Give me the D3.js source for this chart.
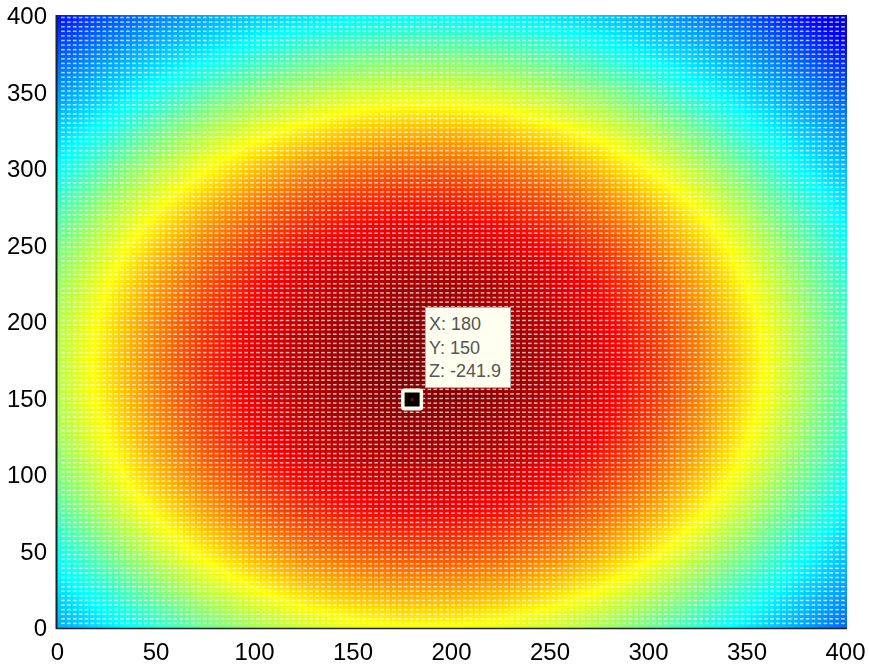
<!DOCTYPE html>
<html>
<head>
<meta charset="utf-8">
<script src="https://cdn.jsdelivr.net/npm/d3@7"></script>
<style>
    html, body { margin: 0; padding: 0; background: #fff; }
    #chart { position: relative; width: 869px; height: 667px; overflow: hidden; }
    #chart canvas, #chart svg { position: absolute; left: 0; top: 0; }
    text { font-family: "Liberation Sans", Arial, sans-serif; }
</style>
</head>
<body>
<div id="chart"></div>
<script>
var xTicks = [0, 50, 100, 150, 200, 250, 300, 350, 400];
var yTicks = [0, 50, 100, 150, 200, 250, 300, 350, 400];

// sample positions of the table below
var gridX = [0, 25, 50, 75, 100, 125, 150, 175, 200, 225, 250, 275, 300, 325, 350, 375, 400];
var gridY = [0, 25, 50, 75, 100, 125, 150, 175, 200, 225, 250, 275, 300, 325, 350, 375, 400];

// how far the surface sits below its peak, one row per gridY
var dropRows = [
    [710, 652, 588, 520, 466, 425, 398, 384, 384, 397, 424, 464, 518, 585, 650, 708, 773],
    [658, 583, 502, 434, 380, 333, 300, 283, 283, 299, 331, 378, 432, 499, 580, 655, 721],
    [604, 511, 429, 359, 294, 245, 212, 196, 195, 211, 243, 292, 357, 426, 507, 601, 677],
    [546, 451, 370, 288, 223, 174, 141, 125, 124, 140, 172, 221, 285, 366, 448, 542, 641],
    [501, 406, 315, 233, 168, 119, 86, 70, 69, 85, 117, 166, 230, 311, 402, 497, 604],
    [468, 374, 276, 195, 129, 80, 47, 31, 31, 47, 79, 127, 192, 273, 370, 464, 572],
    [450, 352, 254, 172, 107, 58, 25, 8, 8, 24, 56, 105, 169, 250, 347, 446, 554],
    [445, 346, 248, 166, 101, 52, 19, 2, 2, 18, 50, 99, 163, 244, 341, 441, 548],
    [453, 356, 258, 176, 111, 62, 29, 12, 12, 28, 60, 109, 173, 254, 351, 449, 557],
    [475, 380, 284, 203, 137, 88, 55, 39, 38, 54, 86, 135, 200, 281, 377, 471, 579],
    [510, 416, 327, 245, 180, 131, 98, 81, 81, 97, 129, 177, 242, 323, 412, 506, 614],
    [559, 464, 383, 304, 239, 190, 157, 140, 140, 156, 188, 236, 301, 380, 461, 555, 648],
    [622, 527, 446, 378, 314, 265, 232, 215, 215, 231, 263, 311, 376, 442, 523, 618, 687],
    [670, 603, 521, 454, 399, 356, 323, 307, 306, 322, 354, 397, 451, 518, 599, 667, 733],
    [724, 666, 610, 543, 489, 448, 421, 407, 407, 420, 447, 487, 540, 608, 664, 722, 788],
    [787, 729, 679, 638, 592, 551, 524, 510, 510, 523, 549, 590, 637, 677, 727, 785, 850],
    [858, 800, 751, 709, 676, 651, 634, 626, 626, 634, 650, 675, 708, 749, 798, 856, 922]
];

var jetColors = ["#00007f", "#0000ff", "#007fff", "#00ffff", "#7fff7f", "#ffff00", "#ff7f00", "#ff0000", "#7f0000"];

var tipPoint = [180, 150];
var tipLines = ["X: 180", "Y: 150", "Z: -241.9"];

var width = 869, height = 667;
var meshStep = 3;

var x = d3.scaleLinear().domain([0, 400]).range([57, 845]);
var y = d3.scaleLinear().domain([0, 400]).range([628, 16]);
var colorScale = d3.scaleLinear()
    .domain(d3.range(jetColors.length).map(function(i) { return 1000 - i * 125; }))
    .range(jetColors)
    .clamp(true);

function surfaceAt(dx, dy) {
    var i = Math.max(0, Math.min(gridX.length - 2, d3.bisectRight(gridX, dx) - 1));
    var j = Math.max(0, Math.min(gridY.length - 2, d3.bisectRight(gridY, dy) - 1));
    var u = (dx - gridX[i]) / (gridX[i + 1] - gridX[i]);
    var v = (dy - gridY[j]) / (gridY[j + 1] - gridY[j]);
    var a = dropRows[j][i] + (dropRows[j][i + 1] - dropRows[j][i]) * u;
    var b = dropRows[j + 1][i] + (dropRows[j + 1][i + 1] - dropRows[j + 1][i]) * u;
    return a + (b - a) * v;
}

var chart = d3.select("#chart");
var canvas = chart.append("canvas").attr("width", width).attr("height", height);
var ctx = canvas.node().getContext("2d");

// surface colours, one canvas pixel at a time
var left = x(0), right = 847, top_ = 15, bottom = y(0);
for (var py = top_; py < bottom; py++) {
    for (var px = left; px < right; px++) {
        ctx.fillStyle = colorScale(surfaceAt(Math.min(x.invert(px), 400), Math.min(y.invert(py), 400)));
        ctx.fillRect(px, py, 1, 1);
    }
}

// white mesh points
ctx.fillStyle = "rgba(255,255,255,0.72)";
d3.range(meshStep, 400, meshStep).forEach(function(gx) {
    d3.range(meshStep, 400, meshStep).forEach(function(gy) {
        ctx.fillRect(x(gx) - 1.8, y(gy) - 0.75, 3.6, 1.5);
    });
});

var svg = chart.append("svg").attr("width", width).attr("height", height);

svg.append("g")
    .attr("transform", "translate(0," + y(0) + ")")
    .call(d3.axisBottom(x).tickValues(xTicks).tickSize(0).tickPadding(15));
svg.append("g")
    .attr("transform", "translate(" + x(0) + ",0)")
    .call(d3.axisLeft(y).tickValues(yTicks).tickSize(0).tickPadding(10));

svg.selectAll(".domain").remove();
svg.selectAll(".tick text")
    .style("font-family", '"Liberation Sans", Arial, sans-serif')
    .style("font-size", "24px")
    .attr("fill", "#000");

svg.append("line")
    .attr("x1", left - 0.5).attr("x2", left - 0.5)
    .attr("y1", top_).attr("y2", bottom + 1)
    .attr("stroke", "#222").attr("stroke-width", 2);
svg.append("line")
    .attr("x1", left - 1).attr("x2", right)
    .attr("y1", bottom + 0.5).attr("y2", bottom + 0.5)
    .attr("stroke", "#222").attr("stroke-width", 1.5);

// data tip marker
var mx = x(tipPoint[0]) + 0.5, my = y(tipPoint[1]) + 1;
svg.append("rect")
    .attr("x", mx - 11).attr("y", my - 11)
    .attr("width", 22).attr("height", 22)
    .attr("rx", 3)
    .attr("fill", "#fffff0");
svg.append("rect")
    .attr("x", mx - 7.5).attr("y", my - 7)
    .attr("width", 15).attr("height", 14)
    .attr("fill", "#000");
svg.append("circle")
    .attr("cx", mx).attr("cy", my)
    .attr("r", 1.5)
    .attr("fill", "#a00010");

// data tip box
var tip = svg.append("g");
tip.append("rect")
    .attr("x", 425.5).attr("y", 307.5)
    .attr("width", 85).attr("height", 80)
    .attr("fill", "#fffff0")
    .attr("stroke", "#b0b0a8");
tip.selectAll("text")
    .data(tipLines)
    .enter().append("text")
    .attr("x", 429)
    .attr("y", function(d, i) { return 330 + i * 23.5; })
    .attr("font-size", 18)
    .attr("fill", "#555")
    .text(function(d) { return d; });
</script>
</body>
</html>
